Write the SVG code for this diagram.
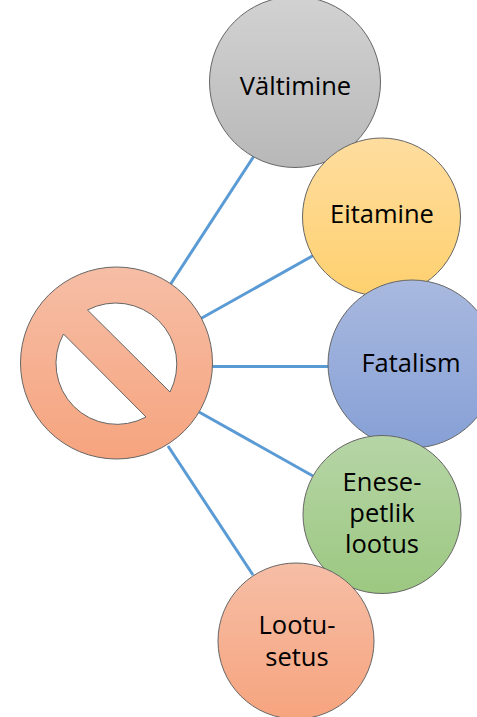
<svg xmlns="http://www.w3.org/2000/svg" width="477" height="717" viewBox="0 0 477 717">
<style>
.n{stroke:#666;stroke-width:1}
.c{stroke:#5b9bd5;stroke-width:3;fill:none}
text{font-family:"Open Sans","Noto Sans","Liberation Sans",sans-serif;font-size:25.500px;fill:#000;text-anchor:middle}
</style>
<defs>
<linearGradient id="gray" x1="0" y1="0" x2="0" y2="1"><stop offset="0" stop-color="#d2d2d2"/><stop offset="1" stop-color="#b8b8b8"/></linearGradient>
<linearGradient id="gold" x1="0" y1="0" x2="0" y2="1"><stop offset="0" stop-color="#fedd9f"/><stop offset="1" stop-color="#fed06e"/></linearGradient>
<linearGradient id="blue" x1="0" y1="0" x2="0" y2="1"><stop offset="0" stop-color="#a9b9df"/><stop offset="1" stop-color="#86a0d6"/></linearGradient>
<linearGradient id="green" x1="0" y1="0" x2="0" y2="1"><stop offset="0" stop-color="#b6d5a6"/><stop offset="1" stop-color="#9cc881"/></linearGradient>
<linearGradient id="orange" x1="0" y1="0" x2="0" y2="1"><stop offset="0" stop-color="#f6bea6"/><stop offset="1" stop-color="#f6a47e"/></linearGradient>
</defs>
<g id="connectors">
<line class="c" x1="170" y1="285" x2="254" y2="156"/>
<line class="c" x1="200" y1="319" x2="316" y2="254"/>
<line class="c" x1="212" y1="366.500" x2="330" y2="366.500"/>
<line class="c" x1="199" y1="412" x2="313" y2="476"/>
<line class="c" x1="168" y1="446" x2="253" y2="575"/>
</g>
<g id="hub">
<path class="n" fill="url(#orange)" fill-rule="evenodd" d="M116.500 267A96 96 0 1 1 116.500 459A96 96 0 1 1 116.500 267ZM87.500 310L170 392A61 61 0 0 0 87.500 310ZM63.500 334A61 61 0 0 0 146 417Z"/>
</g>
<g id="valtimine">
<circle class="n" cx="295" cy="82" r="85.500" fill="url(#gray)"/>
<text x="295.500" y="95">Vältimine</text>
</g>
<g id="eitamine">
<circle class="n" cx="381.500" cy="217" r="79" fill="url(#gold)"/>
<text x="382" y="223">Eitamine</text>
</g>
<g id="fatalism">
<circle class="n" cx="412" cy="364" r="84" fill="url(#blue)"/>
<text x="411" y="372">Fatalism</text>
</g>
<g id="enese">
<circle class="n" cx="382" cy="514.500" r="79" fill="url(#green)"/>
<text x="382" y="491">Enese-</text>
<text x="382" y="522">petlik</text>
<text x="382" y="553">lootus</text>
</g>
<g id="lootusetus">
<circle class="n" cx="296" cy="641" r="78" fill="url(#orange)"/>
<text x="297" y="634">Lootu-</text>
<text x="297" y="666">setus</text>
</g>
</svg>
